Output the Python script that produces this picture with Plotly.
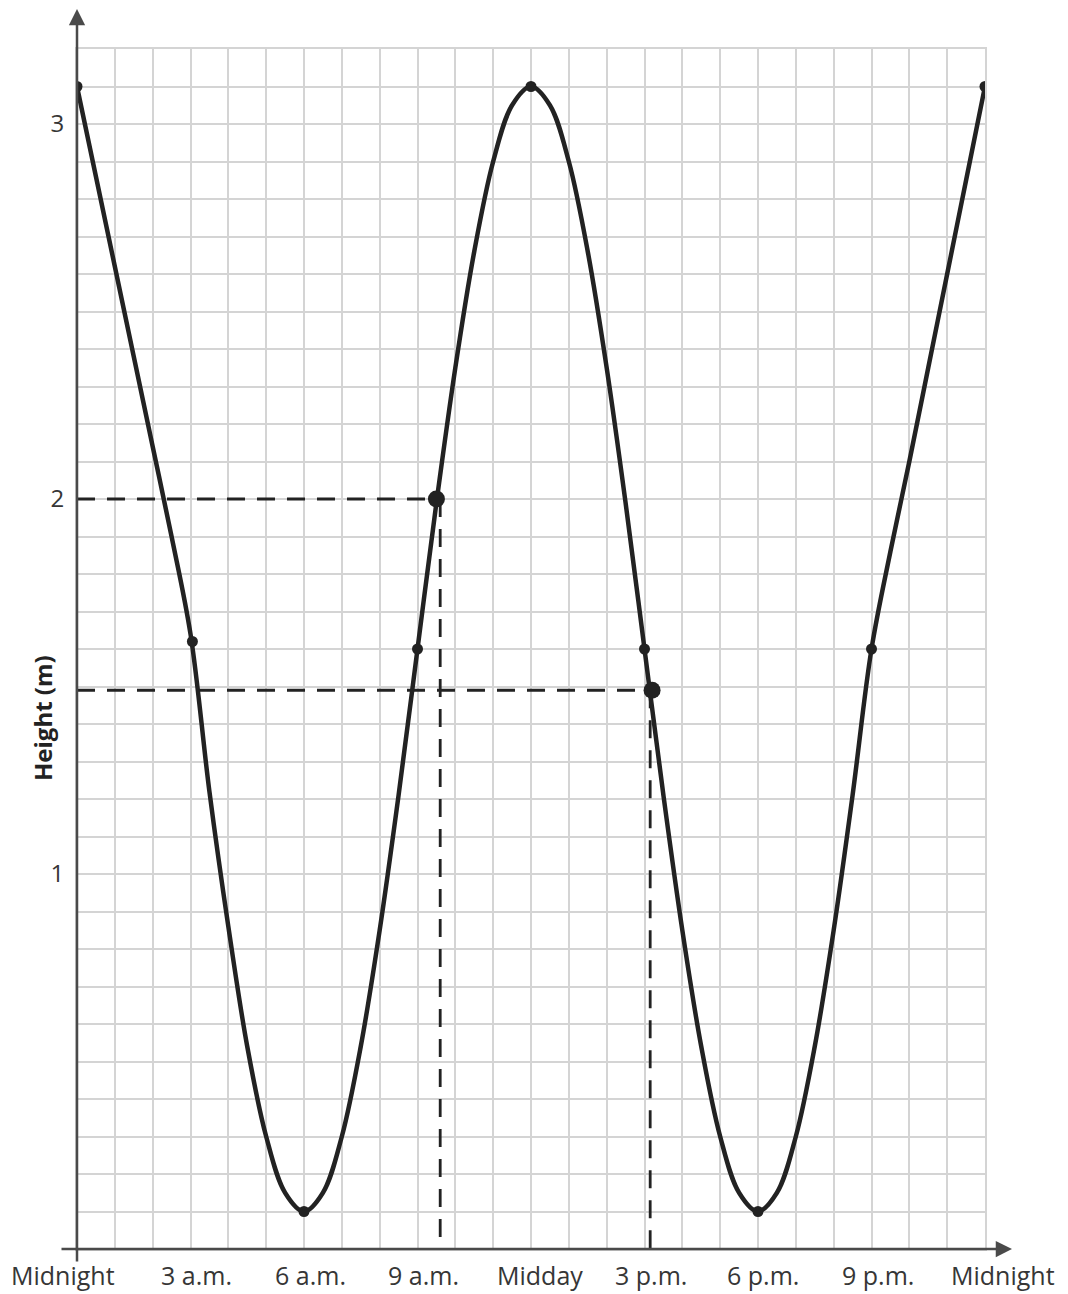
import plotly.graph_objects as go

# ---- data ----
hours = [0, 0.5, 1, 1.5, 2, 2.5, 3, 3.5, 4, 4.5, 5, 5.5, 6, 6.5, 7, 7.5, 8, 8.5, 9, 9.5, 10, 10.5, 11, 11.5, 12,
         12.5, 13, 13.5, 14, 14.5, 15, 15.5, 16, 16.5, 17, 17.5, 18, 18.5, 19, 19.5, 20, 20.5, 21,
         21.5, 22, 22.5, 23, 23.5, 24]
height = [3.10, 2.86, 2.62, 2.38, 2.14, 1.90, 1.64, 1.22, 0.86, 0.54, 0.30, 0.15, 0.10, 0.15, 0.30, 0.54, 0.85,
          1.21, 1.60, 1.99, 2.35, 2.66, 2.90, 3.05, 3.10,
          3.05, 2.90, 2.66, 2.35, 1.99, 1.60, 1.21, 0.85, 0.54, 0.30, 0.15, 0.10, 0.15, 0.30, 0.54, 0.85,
          1.21, 1.60, 1.86, 2.10, 2.35, 2.60, 2.85, 3.10]
mark_hours = [0, 3.05, 6, 9, 12, 15, 18, 21, 24]
mark_height = [3.10, 1.62, 0.10, 1.60, 3.10, 1.60, 0.10, 1.60, 3.10]
tick_vals = [0, 3, 6, 9, 12, 15, 18, 21, 24]
tick_text = ["Midnight", "3 a.m.", "6 a.m.", "9 a.m.", "Midday", "3 p.m.", "6 p.m.", "9 p.m.", "Midnight"]
y_tick_vals = [1, 2, 3]
read_points_t = [9.5, 15.2]
read_points_h = [2.0, 1.49]
read_vlines = [9.6, 15.15]

# ---- style ----
FONT = "Open Sans"
TXT = "#363636"
GRID = "#d4d4d4"
AX = "#4a4a4a"
CURVE = "#222222"
label_shift = [-14, 6, 6, 6, 9, 6, 5, 6, 18]

fig = go.Figure()

fig.add_trace(go.Scatter(x=hours, y=height, mode="lines",
                         line=dict(color=CURVE, width=4.5, shape="spline", smoothing=1.0),
                         hoverinfo="skip", showlegend=False))
fig.add_trace(go.Scatter(x=mark_hours, y=mark_height, mode="markers",
                         marker=dict(color=CURVE, size=11), showlegend=False))
fig.add_trace(go.Scatter(x=read_points_t, y=read_points_h, mode="markers",
                         marker=dict(color=CURVE, size=17), showlegend=False))

# dashed reading lines
for t, h, tv in zip(read_points_t, read_points_h, read_vlines):
    fig.add_shape(type="line", xref="x", yref="y", x0=0, x1=t, y0=h, y1=h,
                  line=dict(color=CURVE, width=2.8, dash="18px,12px"), layer="between")
    fig.add_shape(type="line", xref="x", yref="y", x0=tv, x1=tv, y0=h, y1=0,
                  line=dict(color=CURVE, width=2.8, dash="18px,12px"), layer="between")

# axes with arrows
fig.add_annotation(xref="paper", yref="y", x=(1012 - 77) / 908, y=0, text="",
                   showarrow=True, axref="pixel", ayref="pixel", ax=-952, ay=0,
                   arrowhead=2, arrowsize=1.3, arrowwidth=2.5, arrowcolor=AX, standoff=0)
fig.add_annotation(xref="paper", yref="paper", x=0, y=(1249 - 8) / 1200, text="",
                   showarrow=True, axref="pixel", ayref="pixel", ax=0, ay=1255,
                   arrowhead=2, arrowsize=1.3, arrowwidth=2.5, arrowcolor=AX, standoff=0)

# x tick labels
for v, s, dx in zip(tick_vals, tick_text, label_shift):
    fig.add_annotation(xref="x", yref="paper", x=v, y=0, text=s, showarrow=False,
                       xanchor="center", yanchor="middle", xshift=dx, yshift=-26,
                       font=dict(family=FONT, size=25, color=TXT))

# y axis title
fig.add_annotation(xref="paper", yref="paper", x=(42 - 77) / 908, y=(1249 - 718) / 1200,
                   text="<b>Height (m)</b>", textangle=-90, showarrow=False,
                   xanchor="center", yanchor="middle",
                   font=dict(family=FONT, size=24, color="#222222"))

fig.update_xaxes(range=[0, 24], tickmode="array", tickvals=tick_vals, ticktext=[""] * len(tick_vals),
                 showgrid=True, gridcolor=GRID, gridwidth=2, zeroline=False,
                 minor=dict(dtick=1, showgrid=True, gridcolor=GRID, gridwidth=2),
                 showline=True, mirror=True, linecolor=GRID, linewidth=2, ticks="")
fig.update_yaxes(range=[0, 3.2], tickmode="array", tickvals=y_tick_vals,
                 showgrid=True, gridcolor=GRID, gridwidth=2, zeroline=False,
                 minor=dict(tick0=0, dtick=0.1, showgrid=True, gridcolor=GRID, gridwidth=2),
                 showline=True, mirror=True, linecolor=GRID, linewidth=2, ticks="",
                 ticklabelstandoff=6,
                 tickfont=dict(family=FONT, size=24, color=TXT))

# the page body adds an 8px margin, so the figure is offset to fit the window
fig.update_layout(width=1052, height=1286, margin=dict(l=69, r=75, t=41, b=45),
                  plot_bgcolor="white", paper_bgcolor="white", showlegend=False)

fig.write_html("out.html")
